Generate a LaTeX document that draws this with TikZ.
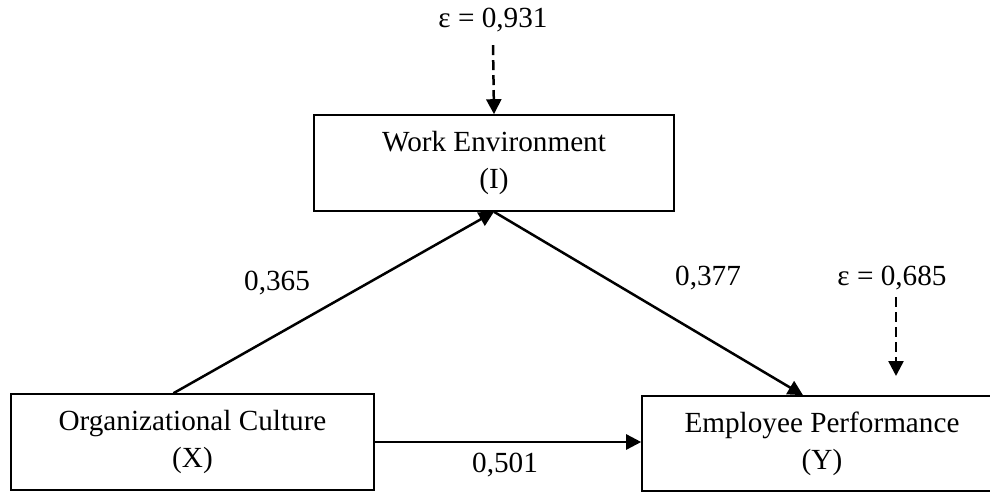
\documentclass[tikz,border=0pt]{standalone}
\usepackage{fontspec}
\setmainfont{Liberation Serif}
\usetikzlibrary{arrows.meta}

\tikzset{
    varbox/.style={draw, line width=0.8pt, minimum width=180pt, minimum height=48pt, align=center, font=\fontsize{14.6}{18.5}\selectfont},
    lbl/.style={font=\fontsize{14.6}{17}\selectfont},
    path/.style={line width=1.25pt, -{Triangle[length=7.5pt,width=7.5pt]}},
    errpath/.style={path, dashed, dash pattern=on 5pt off 2.5pt}
}

\begin{document}
\begin{tikzpicture}[x=0.5pt, y=-0.5pt]
    \useasboundingbox (0,0) rectangle (990,492);
    \clip (0,0) rectangle (990,492);

    % variables
    \node[varbox] (work) at (494, 163) {Work Environment\\(I)};
    \node[varbox, minimum width=181.5pt] (org) at (192.5, 442) {Organizational Culture\\(X)};
    \node[varbox, minimum height=47.5pt] (emp) at (822, 443.5) {Employee Performance\\(Y)};

    % residuals
    \node[lbl] (eps1) at (493, 20) {ε = 0,931};
    \node[lbl] (eps2) at (892, 278) {ε = 0,685};
    \coordinate (eps2start) at (896, 297);
    \coordinate (eps2end) at (896, 376);

    % paths
    \draw[path] ([xshift=-9.5]org.north) -- (work.south);
    \draw[path] (work.south) -- ([xshift=-9.5]emp.north);
    \draw[path] (org.east) -- (org.east -| emp.west);
    \draw[errpath] ([yshift=-3]eps1.south) -- (work.north);
    \draw[errpath] (eps2start) -- (eps2end);

    % coefficients
    \node[lbl] (c1) at (277, 283) {0,365};
    \node[lbl] (c2) at (708, 278) {0,377};
    \node[lbl] (c3) at (505, 465) {0,501};
\end{tikzpicture}
\end{document}
